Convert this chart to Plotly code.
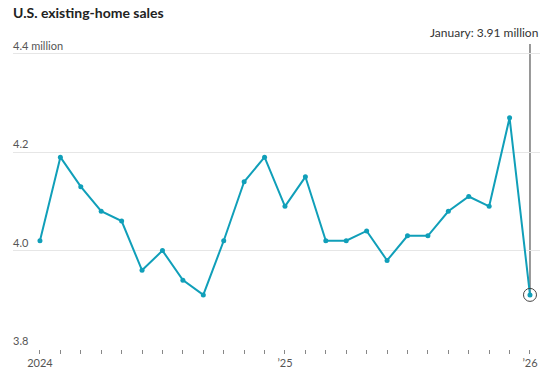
import plotly.graph_objects as go

months = list(range(25))  # Jan 2024 .. Jan 2026
sales = [4.02, 4.19, 4.13, 4.08, 4.06, 3.96, 4.00, 3.94, 3.91, 4.02, 4.14, 4.19,
         4.09, 4.15, 4.02, 4.02, 4.04, 3.98, 4.03, 4.03, 4.08, 4.11, 4.09, 4.27, 3.91]
x_tick_vals = list(range(25))
x_tick_text = ["2024"] + [""] * 11 + ["\u201925"] + [""] * 11 + ["\u201926"]
y_tick_vals = [3.8, 4.0, 4.2, 4.4]
y_tick_text = ["3.8", "4.0", "4.2", "4.4 million"]

FONT = "Lato"
LINE = "#109fb9"

fig = go.Figure()
fig.add_trace(go.Scatter(
    x=months, y=sales, mode="lines+markers",
    line=dict(color=LINE, width=2),
    marker=dict(color=LINE, size=5),
    cliponaxis=False, hoverinfo="skip", showlegend=False))
fig.add_trace(go.Scatter(
    x=[months[-1]], y=[sales[-1]], mode="markers",
    marker=dict(symbol="circle-open", size=13, color="#444", line=dict(width=1, color="#444")),
    cliponaxis=False, hoverinfo="skip", showlegend=False))

fig.add_shape(type="line", xref="x", yref="y",
              x0=months[-1], x1=months[-1], y0=sales[-1], y1=4.42,
              line=dict(color="#333", width=1), layer="below")

fig.add_annotation(x=months[-1], y=4.42, xref="x", yref="y",
                   text=f"January: {sales[-1]:.2f} million", showarrow=False,
                   xanchor="right", yanchor="bottom", xshift=10, yshift=2,
                   font=dict(family=FONT, size=12, color="#333"))

for v, t in zip(y_tick_vals, y_tick_text):
    fig.add_annotation(x=0, xref="paper", y=v, yref="y", text=t, showarrow=False,
                       xanchor="left", yanchor="bottom", yshift=0, xshift=-2,
                       font=dict(family=FONT, size=11, color="#555"))

# chart title
fig.add_annotation(x=0, xref="paper", y=1, yref="paper", text="<b>U.S. existing-home sales</b>",
                   showarrow=False, xanchor="left", yanchor="bottom", xshift=-2, yshift=21,
                   font=dict(family=FONT, size=14, color="#222"))

fig.update_layout(
    width=542, height=365,
    margin=dict(l=5, r=10, t=36, b=24),
    paper_bgcolor="white", plot_bgcolor="white",
    font=dict(family=FONT, color="#555"),
    xaxis=dict(range=[-1.32, 24.49], tickmode="array", tickvals=x_tick_vals, ticktext=x_tick_text,
               showgrid=False, zeroline=False, showline=False,
               ticks="outside", ticklen=4, tickcolor="#888", tickwidth=1,
               tickfont=dict(family=FONT, size=11, color="#555")),
    yaxis=dict(range=[3.8, 4.42], tickmode="array", tickvals=y_tick_vals,
               showticklabels=False, showgrid=True, gridcolor="#e6e6e6", gridwidth=1,
               zeroline=False, showline=False),
)

fig.write_html("out.html", config={"displayModeBar": False})
